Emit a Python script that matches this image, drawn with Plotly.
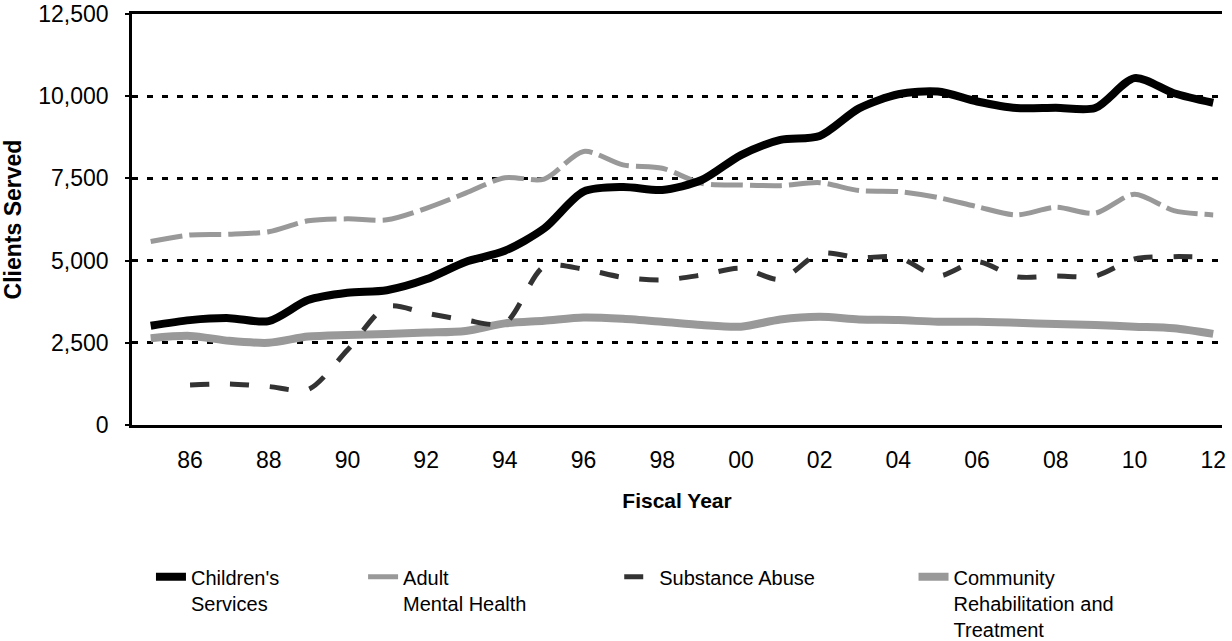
import plotly.graph_objects as go

years = list(range(1985, 2013))

childrens = [3020, 3190, 3250, 3160, 3800, 4020, 4100, 4430, 4960, 5300,
             5980, 7100, 7240, 7150, 7450, 8210, 8670, 8790, 9630, 10060,
             10140, 9840, 9640, 9650, 9640, 10550, 10090, 9800]
adult_mh = [5580, 5780, 5800, 5880, 6210, 6270, 6240, 6590, 7050, 7520,
            7480, 8320, 7910, 7810, 7350, 7300, 7280, 7370, 7130, 7100,
            6920, 6640, 6390, 6620, 6440, 7020, 6520, 6390]
substance = [None, 1220, 1250, 1170, 1080, 2280, 3600, 3400, 3190, 3100,
             4820, 4740, 4490, 4410, 4560, 4770, 4430, 5220, 5090, 5100,
             4530, 4970, 4510, 4530, 4530, 5050, 5120, 5100]
community = [2640, 2710, 2560, 2500, 2690, 2740, 2770, 2810, 2860, 3090,
             3170, 3270, 3230, 3140, 3040, 2990, 3210, 3290, 3210, 3190,
             3140, 3140, 3110, 3070, 3040, 2990, 2940, 2770]

tick_years = years[1::2]
tick_text = [f"{y % 100:02d}" for y in tick_years]
y_ticks = [0, 2500, 5000, 7500, 10000, 12500]

FONT = "Liberation Sans, Arial, sans-serif"

series = [
    ("Children's<br>Services", childrens, "#000000", 8, "solid", "legend"),
    ("Adult<br>Mental Health", adult_mh, "#999999", 5, "32px,7px", "legend2"),
    ("Substance Abuse", substance, "#333333", 5, "19px,21px", "legend3"),
    ("Community<br>Rehabilitation and<br>Treatment", community, "#999999", 8, "solid", "legend4"),
]

fig = go.Figure()
# draw order: lighter lines first so black sits on top
for name, vals, color, width, dash, leg in [series[3], series[2], series[1], series[0]]:
    fig.add_trace(go.Scatter(
        x=years, y=vals, name=name, mode="lines",
        line=dict(color=color, width=width, dash=dash, shape="spline", smoothing=0.8),
        connectgaps=False, legend=leg, showlegend=True, hoverinfo="skip",
    ))

# one legend per series so each entry can sit where the original puts it
legend_common = dict(
    orientation="h", yanchor="top", xanchor="left", y=-0.322,
    font=dict(family=FONT, size=20, color="#000000"),
    bgcolor="rgba(0,0,0,0)", valign="top", itemwidth=30, visible=True,
)

fig.update_layout(
    width=1232, height=641,
    margin=dict(l=132, r=10, t=14, b=216, autoexpand=False),
    showlegend=True,
    paper_bgcolor="white", plot_bgcolor="white",
    font=dict(family=FONT, size=22, color="#000000"),
    legend=dict(legend_common, x=0.0174),
    legend2=dict(legend_common, x=0.212),
    legend3=dict(legend_common, x=0.447),
    legend4=dict(legend_common, x=0.717),
    xaxis=dict(
        range=[1984.525, 2012.224],
        tickvals=tick_years, ticktext=tick_text,
        showgrid=False, zeroline=False, automargin=False,
        showline=True, linecolor="#000000", linewidth=2.5, mirror=True,
        ticks="", ticklabelstandoff=13,
        tickfont=dict(family=FONT, size=23),
        title=dict(text="<b>Fiscal Year</b>", font=dict(family=FONT, size=21), standoff=21),
    ),
    yaxis=dict(
        range=[0, 12500],
        tickvals=y_ticks, tickformat=",",
        showgrid=True, gridcolor="#000000", gridwidth=2.5, griddash="6px,9px",
        zeroline=False, automargin=False,
        showline=True, linecolor="#000000", linewidth=2.5,
        ticks="outside", ticklen=4, tickcolor="#000000", tickwidth=2,
        ticklabelstandoff=12,
        tickfont=dict(family=FONT, size=23),
        title=dict(text="<b>Clients Served</b>", font=dict(family=FONT, size=23), standoff=18),
    ),
)

# page body has a default margin; drop it so the figure sits at the top-left corner
fig.write_html("out.html", config={"displayModeBar": False},
               post_script="document.body.style.margin='0px';")
